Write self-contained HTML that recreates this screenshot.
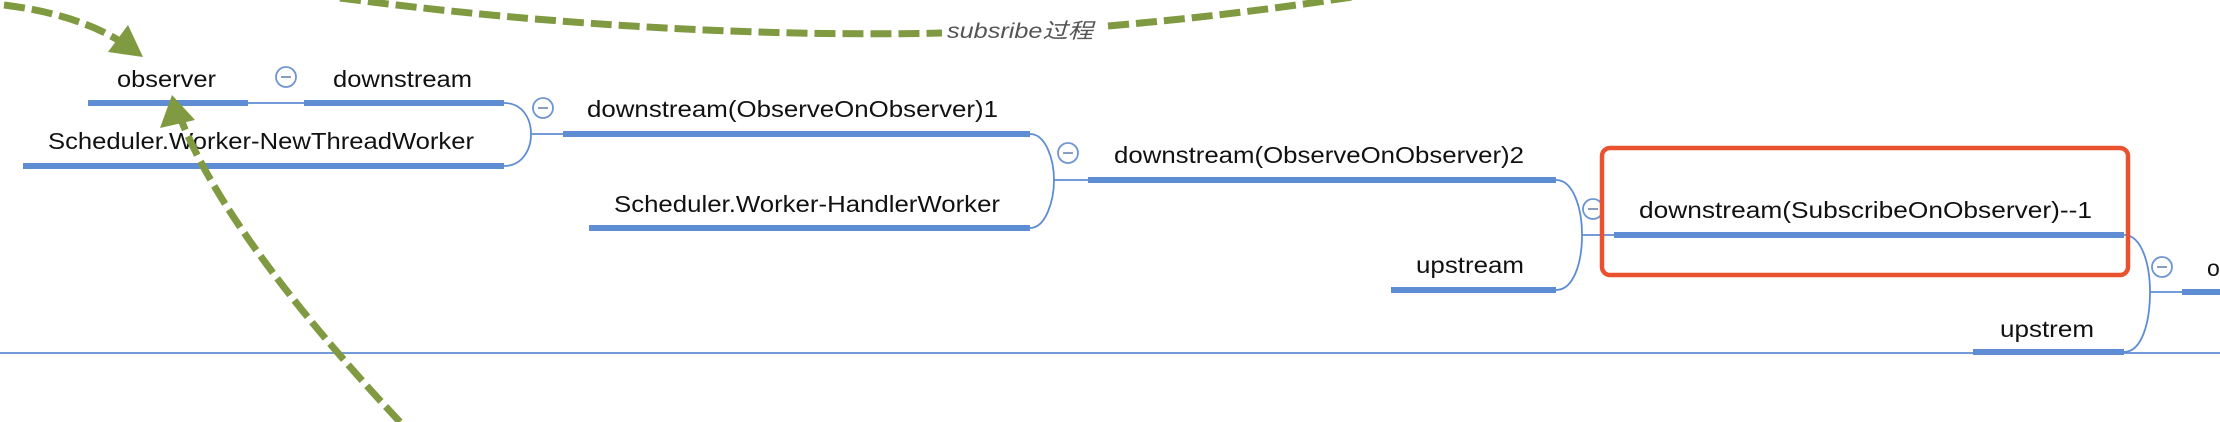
<!DOCTYPE html>
<html><head><meta charset="utf-8"><style>
html,body{margin:0;padding:0;background:#fff;}
svg{display:block;}
text{font-family:"Liberation Sans","Noto Sans CJK SC",sans-serif;fill:#111;}
</style></head><body>
<svg width="2220" height="422" viewBox="0 0 2220 422" xmlns="http://www.w3.org/2000/svg">
<g fill="none" stroke="#5f8dd3" stroke-width="1.8">
  <line x1="0" y1="353" x2="2220" y2="353"/>
  <line x1="248" y1="103" x2="304" y2="103"/>
  <path d="M504,103 C522,103 531,118 531,134 C531,150 522,166 504,166"/>
  <line x1="531" y1="134" x2="563" y2="134"/>
  <path d="M1030,134 C1046,134 1054,160 1054,180 C1054,200 1046,228 1030,228"/>
  <line x1="1054" y1="180" x2="1088" y2="180"/>
  <path d="M1556,180 C1574,180 1582,210 1582,235 C1582,262 1574,290 1556,290"/>
  <line x1="1582" y1="235" x2="1614" y2="235"/>
  <path d="M2124,235 C2142,235 2150,265 2150,292 C2150,322 2142,352 2124,352"/>
  <line x1="2150" y1="292" x2="2182" y2="292"/>
</g>
<g fill="#5f8dd3">
  <rect x="88" y="100" width="160" height="6"/>
  <rect x="304" y="100" width="200" height="6"/>
  <rect x="23" y="163" width="481" height="6"/>
  <rect x="563" y="131" width="467" height="6"/>
  <rect x="589" y="225" width="441" height="6"/>
  <rect x="1088" y="177" width="468" height="6"/>
  <rect x="1391" y="287" width="165" height="6"/>
  <rect x="1614" y="232" width="510" height="6"/>
  <rect x="1973" y="349" width="151" height="6"/>
  <rect x="2182" y="289" width="40" height="6"/>
</g>
<g fill="#fff" stroke="#6f95d3" stroke-width="1.8">
  <circle cx="286" cy="77" r="10"/>
  <circle cx="543" cy="108" r="10"/>
  <circle cx="1068" cy="153" r="10"/>
  <circle cx="1593" cy="209" r="10"/>
  <circle cx="2162" cy="267" r="10"/>
</g>
<g stroke="#8a9cc0" stroke-width="2">
  <line x1="281" y1="77" x2="291" y2="77"/>
  <line x1="538" y1="108" x2="548" y2="108"/>
  <line x1="1063" y1="153" x2="1073" y2="153"/>
  <line x1="1588" y1="209" x2="1598" y2="209"/>
  <line x1="2157" y1="267" x2="2167" y2="267"/>
</g>
<rect x="1602" y="148" width="526" height="127" rx="8" fill="none" stroke="#e8522e" stroke-width="4.5"/>
<g font-size="23">
  <text x="117" y="87" textLength="99" lengthAdjust="spacingAndGlyphs">observer</text>
  <text x="333" y="87" textLength="139" lengthAdjust="spacingAndGlyphs">downstream</text>
  <text x="48" y="149" textLength="426" lengthAdjust="spacingAndGlyphs">Scheduler.Worker-NewThreadWorker</text>
  <text x="587" y="117" textLength="411" lengthAdjust="spacingAndGlyphs">downstream(ObserveOnObserver)1</text>
  <text x="614" y="212" textLength="386" lengthAdjust="spacingAndGlyphs">Scheduler.Worker-HandlerWorker</text>
  <text x="1114" y="163" textLength="410" lengthAdjust="spacingAndGlyphs">downstream(ObserveOnObserver)2</text>
  <text x="1416" y="273" textLength="108" lengthAdjust="spacingAndGlyphs">upstream</text>
  <text x="1639" y="218" textLength="453" lengthAdjust="spacingAndGlyphs">downstream(SubscribeOnObserver)--1</text>
  <text x="2000" y="337" textLength="94" lengthAdjust="spacingAndGlyphs">upstrem</text>
  <text x="2207" y="276">o</text>
</g>
<g fill="none" stroke="#7f9a40" stroke-width="7" stroke-dasharray="21,7">
  <path d="M4,5 Q75,14 118,40"/>
  <path d="M340,-2 C600,32 820,36 942,33"/>
  <path d="M1108,26 C1200,18 1280,8 1352,-3"/>
  <path d="M400,422 Q230,240 182,122"/>
</g>
<g fill="#7f9a40">
  <polygon points="128,25 108,52 143,57"/>
  <polygon points="172,95 160,128 195,120"/>
</g>
<text x="947" y="38" font-size="21" font-style="italic" fill="#555" style="fill:#555" textLength="146" lengthAdjust="spacingAndGlyphs">subsribe过程</text>
</svg>
</body></html>
